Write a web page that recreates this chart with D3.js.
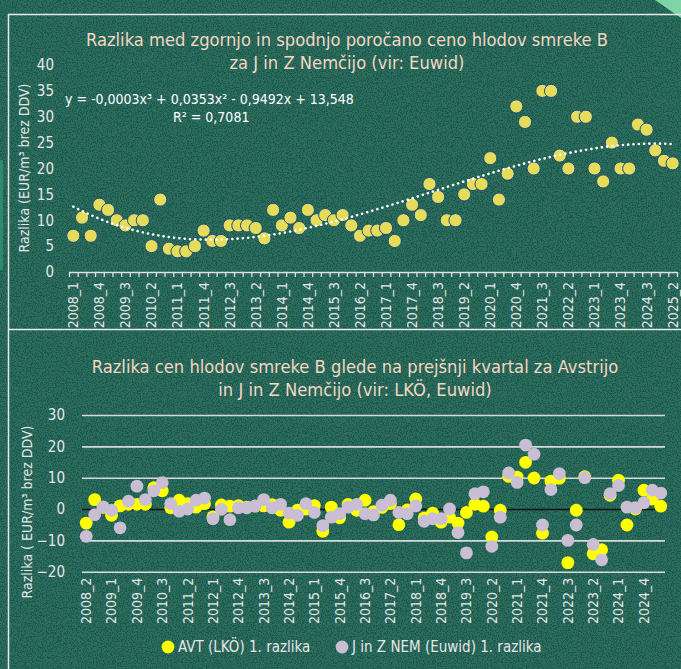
<!DOCTYPE html>
<html><head><meta charset="utf-8">
<script src="https://cdn.jsdelivr.net/npm/d3@7"></script>
<style>
html,body{margin:0;padding:0;background:#185b4d;}
svg{display:block;}
text{font-family:"Liberation Sans Narrow","DejaVu Sans Condensed","Roboto",sans-serif;}
</style></head>
<body>
<svg id="c" width="681" height="669"></svg>
<script>
// ---------- DATA ----------
const topCategories = [];
for (let y = 2008; y <= 2025; y++) for (let q = 1; q <= 4; q++) { if (y === 2025 && q > 2) break; topCategories.push(y + "_" + q); }
const topValues = [
  7, 10.5, 7, 13,
  12, 10, 9, 10,
  10, 5, 14, 4.5,
  4, 4, 5, 8,
  6, 6, 9, 9,
  9, 8.5, 6.5, 12,
  9, 10.5, 8.5, 12,
  10, 11, 10, 11,
  9, 7, 8, 8,
  8.5, 6, 10, 13,
  11, 17, 14.5, 10,
  10, 15, 17, 17,
  22, 14, 19, 32,
  29, 20, 35, 35,
  22.5, 20, 30, 30,
  20, 17.5, 25, 20,
  20, 28.5, 27.5, 23.5,
  21.5, 21
];
const topYTicks = [0, 5, 10, 15, 20, 25, 30, 35, 40];
const topTitle = ["Razlika med zgornjo in spodnjo poročano ceno hlodov smreke B", "za J in Z Nemčijo (vir: Euwid)"];
const topEquation = "y = -0,0003x³ + 0,0353x² - 0,9492x + 13,548";
const topR2 = "R² = 0,7081";
const topYTitle = "Razlika (EUR/m³ brez DDV)";

const botCategories = topCategories.slice(1);
const avtValues = [
  -4.5, 3, 0.5, -2, 1, 1.5, 1.5, 1.5, 6.8, 5.8,
  0.4, 2.8, 1.7, 0.6, 1.7, -2.5, 1.3, 0.9, 1.1, 0.6,
  0.9, 1.0, 1.4, -0.4, -4.2, -0.4, 0, 1.1, -7.1, 0.6,
  -2.8, 1.5, -0.4, 2.8, -0.8, 0.5, 1.7, -5.0, -0.3, 3.2,
  -2.8, -1.3, -4.2, -2.6, -4.5, -1.1, 1.5, 0.9, -8.9, -0.4,
  10.4, 10.2, 14.9, 9.9, -7.7, 8.9, 9.8, -17.1, -0.4, 10.3,
  -14.3, -13, 4.4, 9.2, -5.1, 0, 6.0, 3.2, 0.9
];
const nemValues = [
  -8.7, -1.8, 0.7, -0.4, -6, 2.5, 7.3, 3, 5.8, 8.4,
  1.7, -0.7, 0, 2.8, 3.5, -3.1, -0.1, -3.4, 0.4, 0.4,
  1.0, 3.0, 0.4, 1.5, -1.3, -2.0, 1.7, -1.1, -5.3, -2.6,
  -1.5, 0.6, 1.5, -1.5, -1.9, 1.2, 2.8, -1.1, -1.5, 1.0,
  -3.9, -3.1, -3.1, 0, -7.5, -14, 4.9, 5.5, -11.9, -2.6,
  11.5, 8.5, 20.4, 17.5, -5.1, 6.2, 11.3, -10, -5.1, 10.0,
  -11.3, -16.2, 4.9, 7.5, 0.6, 0.4, 2.0, 6.0, 5.1
];
const botYTicks = [-20, -10, 0, 10, 20, 30];
const botTitle = ["Razlika cen hlodov smreke B glede na prejšnji kvartal za Avstrijo", "in J in Z Nemčijo (vir: LKÖ, Euwid)"];
const botYTitle = "Razlika ( EUR/m³ brez DDV)";
const legendLabels = ["AVT (LKÖ) 1. razlika", "J in Z NEM (Euwid) 1. razlika"];

// ---------- DRAW ----------
const svg = d3.select("#c");
const defs = svg.append("defs");
const f = defs.append("filter").attr("id", "noise").attr("x", 0).attr("y", 0).attr("width", "100%").attr("height", "100%");
f.append("feTurbulence").attr("type", "fractalNoise").attr("baseFrequency", 0.8).attr("numOctaves", 2).attr("seed", 3).attr("result", "t");
f.append("feColorMatrix").attr("type", "matrix")
  .attr("values", "0 0 0 0 1  0 0 0 0 1  0 0 0 0 1  0 0 0 -10 5.9");
svg.append("rect").attr("width", 681).attr("height", 669).attr("fill", "#175b4c");
svg.append("rect").attr("width", 681).attr("height", 669).attr("filter", "url(#noise)").attr("opacity", 0.1);

// decorative corner
svg.append("polygon").attr("points", "655,0 681,0 681,18").attr("fill", "#7ed3a8");
svg.append("rect").attr("x", 0).attr("y", 160).attr("width", 3).attr("height", 110).attr("fill", "#2f8a6c");

// frames
const frame = svg.append("g").attr("stroke", "#e8e8e8").attr("stroke-width", 1.5).attr("fill", "none");
frame.append("path").attr("d", "M681,14.5 H8.5 V669");
frame.append("path").attr("d", "M8.5,329.5 H681");

const titleColor = "#f3d6c4";
const lightText = "#e6e6e6";

// ===== TOP CHART =====
const xt = d3.scaleBand().domain(topCategories).range([69, 677]).paddingInner(0).paddingOuter(0);
const yt = d3.scaleLinear().domain([0, 40]).range([272, 65]);
const gTop = svg.append("g");

gTop.selectAll("text.tt").data(topTitle).join("text")
  .attr("x", 347).attr("y", (d, i) => 46 + i * 23).attr("text-anchor", "middle")
  .attr("fill", titleColor).attr("font-size", 18.2).text(d => d);

// y axis labels
const yAxT = gTop.append("g").attr("transform", "translate(69,0)")
  .call(d3.axisLeft(yt).tickValues(topYTicks).tickSize(0).tickPadding(15));
yAxT.select(".domain").remove();
yAxT.selectAll("text").attr("fill", lightText).attr("font-size", 15);

gTop.append("text").attr("transform", "translate(29,168) rotate(-90)").attr("text-anchor", "middle")
  .attr("fill", lightText).attr("font-size", 14).text(topYTitle);

// x axis: tick marks at category boundaries
const xIdx = d3.scaleLinear().domain([0, topCategories.length]).range([69, 677]);
const tickAx = gTop.append("g").attr("transform", "translate(0,272)")
  .call(d3.axisBottom(xIdx).tickValues(d3.range(0, topCategories.length + 1)).tickSize(5).tickFormat(""));
tickAx.selectAll("line,path").attr("stroke", "#e0e0e0").attr("stroke-width", 1.3);
tickAx.select(".domain").attr("d", "M69,0.5H677");

const labAx = gTop.append("g").attr("transform", "translate(0,272)")
  .call(d3.axisBottom(xt).tickValues(topCategories.filter((d, i) => i % 3 === 0)).tickSize(0));
labAx.select(".domain").remove();
labAx.selectAll("text").attr("transform", "rotate(-90)").attr("text-anchor", "end")
  .attr("x", -10).attr("y", 0).attr("dy", "0.35em").attr("fill", lightText).attr("font-size", 14);

// markers
gTop.selectAll("circle.pt").data(topValues).join("circle")
  .attr("cx", (d, i) => xt(topCategories[i]) + xt.bandwidth() / 2)
  .attr("cy", d => yt(d)).attr("r", 6.6)
  .attr("fill", "#e5dc5b").attr("stroke", "#1f4e79").attr("stroke-width", 1);

// cubic trend line (least squares)
function polyfit(xs, ys, deg) {
  const n = deg + 1;
  const A = Array.from({length: n}, () => new Array(n + 1).fill(0));
  for (let k = 0; k < xs.length; k++) {
    for (let r = 0; r < n; r++) {
      for (let c = 0; c < n; c++) A[r][c] += Math.pow(xs[k], r + c);
      A[r][n] += ys[k] * Math.pow(xs[k], r);
    }
  }
  for (let i = 0; i < n; i++) {
    let m = i;
    for (let r = i + 1; r < n; r++) if (Math.abs(A[r][i]) > Math.abs(A[m][i])) m = r;
    [A[i], A[m]] = [A[m], A[i]];
    for (let r = 0; r < n; r++) if (r !== i) {
      const fct = A[r][i] / A[i][i];
      for (let c = i; c <= n; c++) A[r][c] -= fct * A[i][c];
    }
  }
  return A.map((row, i) => row[n] / row[i]);
}
const xsIdx = topValues.map((d, i) => i + 1);
const coef = polyfit(xsIdx, topValues, 3);
const trend = d3.range(1, topValues.length + 0.001, 0.25).map(x => [x, coef[0] + coef[1] * x + coef[2] * x * x + coef[3] * x * x * x]);
const xTrend = d3.scaleLinear().domain([1, topValues.length])
  .range([xt(topCategories[0]) + xt.bandwidth() / 2, xt(topCategories[topCategories.length - 1]) + xt.bandwidth() / 2]);
gTop.append("path").datum(trend)
  .attr("d", d3.line().x(d => xTrend(d[0])).y(d => yt(d[1])))
  .attr("fill", "none").attr("stroke", "#ffffff").attr("stroke-width", 2.6)
  .attr("stroke-linecap", "round").attr("stroke-dasharray", "0.1 5.2");

gTop.append("text").attr("x", 65).attr("y", 104).attr("fill", "#ffffff").attr("font-size", 14).text(topEquation);
gTop.append("text").attr("x", 173).attr("y", 122).attr("fill", "#ffffff").attr("font-size", 14).text(topR2);

// ===== BOTTOM CHART =====
const xb = d3.scaleBand().domain(botCategories).range([82, 665]).paddingInner(0).paddingOuter(0);
const yb = d3.scaleLinear().domain([-20, 30]).range([571.7, 415]);
const gBot = svg.append("g");

gBot.selectAll("text.bt").data(botTitle).join("text")
  .attr("x", 355).attr("y", (d, i) => 373 + i * 23).attr("text-anchor", "middle")
  .attr("fill", titleColor).attr("font-size", 18.2).text(d => d);

const yAxB = gBot.append("g").attr("transform", "translate(82,0)")
  .call(d3.axisLeft(yb).tickValues(botYTicks).tickSize(-(665 - 82)).tickPadding(17));
yAxB.select(".domain").remove();
yAxB.selectAll("line").attr("stroke", d => d === 0 ? "#111" : "#d9d9d9").attr("stroke-width", 1.6);
yAxB.selectAll("text").attr("fill", lightText).attr("font-size", 15);

gBot.append("text").attr("transform", "translate(32,512) rotate(-90)").attr("text-anchor", "middle")
  .attr("fill", lightText).attr("font-size", 14).text(botYTitle);

const labB = gBot.append("g").attr("transform", "translate(0,571.7)")
  .call(d3.axisBottom(xb).tickValues(botCategories.filter((d, i) => i % 3 === 0)).tickSize(0));
labB.select(".domain").remove();
labB.selectAll("text").attr("transform", "rotate(-90)").attr("text-anchor", "end")
  .attr("x", -6).attr("y", 0).attr("dy", "0.35em").attr("fill", lightText).attr("font-size", 14);

const series = [{vals: avtValues, color: "#ffff00"}, {vals: nemValues, color: "#c9bed3"}];
series.forEach((s, k) => {
  gBot.append("g").selectAll("circle").data(s.vals).join("circle")
    .attr("cx", (d, i) => xb(botCategories[i]) + xb.bandwidth() / 2)
    .attr("cy", d => yb(d)).attr("r", 6.4).attr("fill", s.color);
});

// legend
const leg = gBot.append("g");
const legX = [168, 342];
legendLabels.forEach((t, i) => {
  leg.append("circle").attr("cx", legX[i]).attr("cy", 647).attr("r", 6.4).attr("fill", series[i].color);
  leg.append("text").attr("x", legX[i] + 10).attr("y", 652).attr("fill", lightText).attr("font-size", 15).text(t);
});
</script>
</body></html>
